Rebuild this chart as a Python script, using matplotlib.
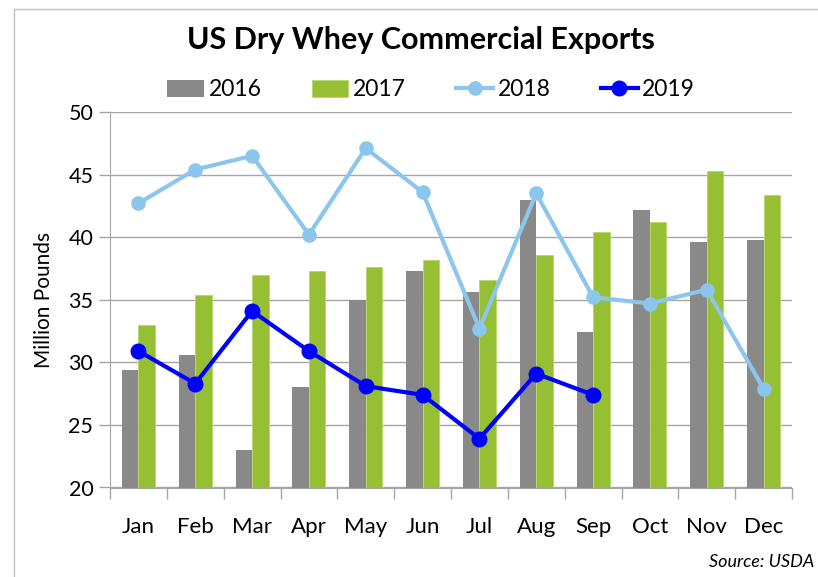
import numpy as np
import matplotlib.pyplot as plt
from matplotlib.patches import Rectangle

plt.rcParams['font.family'] = ['Lato', 'DejaVu Sans']

# 데이터 (그림에서 읽은 값, 단위: 백만 파운드)
months = ["Jan", "Feb", "Mar", "Apr", "May", "Jun",
          "Jul", "Aug", "Sep", "Oct", "Nov", "Dec"]
y2016 = [29.4, 30.6, 23.0, 28.0, 35.0, 37.3, 35.6, 43.0, 32.4, 42.2, 39.6, 39.8]
y2017 = [33.0, 35.4, 37.0, 37.3, 37.6, 38.2, 36.6, 38.6, 40.4, 41.2, 45.3, 43.4]
y2018 = [42.7, 45.4, 46.5, 40.2, 47.1, 43.6, 32.7, 43.5, 35.2, 34.7, 35.8, 27.9]
y2019 = [30.9, 28.3, 34.1, 30.9, 28.1, 27.4, 23.9, 29.1, 27.4]

GRAY = "#898989"
GREEN = "#96bf33"
LIGHT = "#8cc6ec"
BLUE = "#0000ff"
AXC = "#a6a6a6"

fig = plt.figure(figsize=(8.18, 5.77), dpi=100)
# 바깥 테두리
fig.patches.append(Rectangle((14 / 818, -0.1), 1.2, 1 - 9 / 577 + 0.1,
                             transform=fig.transFigure, fill=False,
                             edgecolor="#bfbfbf", linewidth=1))

ax = fig.add_axes([110 / 818, 1 - 487.5 / 577, 682 / 818, 375.5 / 577])
x = np.arange(len(months))
w = 0.29

b16 = ax.bar(x - w / 2, y2016, w, color=GRAY, label="2016", zorder=2)
b17 = ax.bar(x + w / 2, y2017, w, color=GREEN, edgecolor="#b5d86a", linewidth=0.6,
             label="2017", zorder=2)
l18, = ax.plot(x, y2018, color=LIGHT, lw=3, marker="o", ms=9.5, label="2018", zorder=3)
l19, = ax.plot(np.arange(len(y2019)), y2019, color=BLUE, lw=3, marker="o", ms=10.5,
               label="2019", zorder=4)

ax.set_ylim(20, 50)
ax.set_xlim(-0.5, 11.5)
ax.set_yticks(np.arange(20, 51, 5))
ax.grid(axis="y", color=AXC, lw=1, zorder=0)
ax.set_axisbelow(True)

ax.set_xticks(x)
ax.set_xticklabels(months)
ax.set_xticks(np.arange(-0.5, 12, 1), minor=True)
ax.tick_params(axis="x", which="major", length=0, pad=21, labelsize=16)
ax.tick_params(axis="x", which="minor", length=8, color=AXC, width=1)
ax.tick_params(axis="y", length=8, color=AXC, width=1, labelsize=15.5, pad=4)

for s in ["top", "right"]:
    ax.spines[s].set_visible(False)
ax.spines["left"].set_color(AXC)
ax.spines["bottom"].set_color(AXC)

ax.set_ylabel("Million Pounds", fontsize=15)
ax.yaxis.set_label_coords(-(110 - 54) / 682, 0.5)

fig.text(0.515, 1 - 40 / 577, "US Dry Whey Commercial Exports",
         ha="center", va="center", fontsize=22, fontweight="bold")

fig.legend([b16, b17, l18, l19], ["2016", "2017", "2018", "2019"],
           loc="center", bbox_to_anchor=(0.527, 1 - 90 / 577), ncol=4,
           frameon=False, fontsize=16.5, handlelength=1.6, handletextpad=0.2,
           columnspacing=2.2)

fig.text(0.995, 1 - 562 / 577, "Source: USDA", ha="right", va="center",
         fontsize=13, style="italic")

fig.savefig("out.png", dpi=100)
